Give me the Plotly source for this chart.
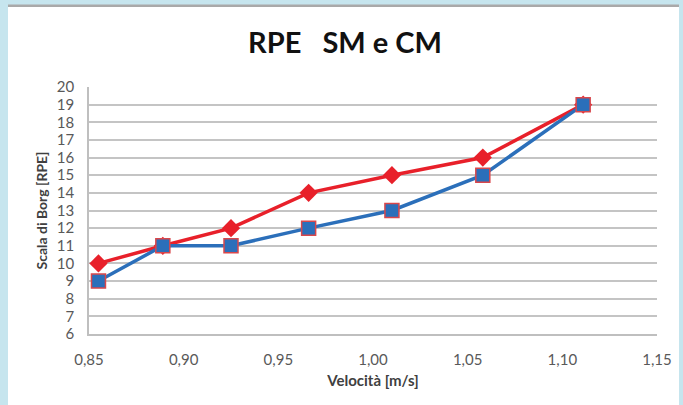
import plotly.graph_objects as go

velocity_cm = [0.855, 0.889, 0.925, 0.966, 1.010, 1.058, 1.111]
rpe_red = [10, 11, 12, 14, 15, 16, 19]
rpe_blue = [9, 11, 11, 12, 13, 15, 19]
x_ticks = [0.85, 0.90, 0.95, 1.00, 1.05, 1.10, 1.15]
y_ticks = list(range(6, 21))

W, H = 683, 405
L, R, T, B = 89, 657, 87, 334

def px(xp):
    return (xp - L) / (R - L)

def py(yp):
    return (B - yp) / (B - T)

fig = go.Figure()
fig.add_trace(go.Scatter(
    x=velocity_cm, y=rpe_red, mode="lines+markers", name="SM",
    line=dict(color="#e8202a", width=3.5),
    marker=dict(symbol="diamond", size=14, color="#e8202a", line=dict(width=0)),
))
fig.add_trace(go.Scatter(
    x=velocity_cm, y=rpe_blue, mode="lines+markers", name="CM",
    line=dict(color="#2b6fba", width=3.5),
    marker=dict(symbol="square", size=14, color="#2b6fba", line=dict(width=1.5, color="#d9474b")),
))

shapes = [
    dict(type="rect", xref="paper", yref="paper", layer="below",
         x0=px(8), x1=px(679), y0=py(405), y1=py(7),
         fillcolor="white", line=dict(width=0)),
    dict(type="rect", xref="paper", yref="paper", layer="below",
         x0=px(8), x1=px(679), y0=py(7), y1=py(4.5),
         fillcolor="#a9a9a9", line=dict(width=0)),
]

fig.update_layout(
    width=W, height=H,
    margin=dict(l=L, r=W - R, t=T, b=H - B),
    paper_bgcolor="#c6e5ee",
    plot_bgcolor="white",
    showlegend=False,
    separators=",.",
    shapes=shapes,
    title=dict(text="RPE\u00a0\u00a0\u00a0SM e CM", x=0.5, xref="paper", y=1 - 43 / H,
               yanchor="middle", xanchor="center",
               font=dict(family="Lato", size=29, color="#111111", weight="bold")),
    font=dict(family="Lato", color="#595959"),
)
fig.layout.title.x = (345 - L) / (R - L)

fig.update_xaxes(
    range=[0.85, 1.15], tickvals=x_ticks, tickformat=".2f",
    showgrid=False, zeroline=False,
    showline=True, linecolor="#bfbfbf", linewidth=1.5,
    ticks="", ticklabelstandoff=11,
    tickfont=dict(size=15, color="#595959"),
    title=dict(text="Velocità [m/s]", font=dict(size=15, color="#404040", weight="bold"), standoff=9),
)
fig.update_yaxes(
    range=[6, 20], tickvals=y_ticks,
    showgrid=True, gridcolor="#c4c4c4", gridwidth=1.8,
    zeroline=False, showline=True, linecolor="#bfbfbf", linewidth=1.5,
    ticks="", ticklabelstandoff=10,
    tickfont=dict(size=15, color="#595959"),
    title=dict(text="Scala di Borg [RPE]", font=dict(size=14, color="#404040", weight="bold"), standoff=6),
)

fig.write_html("out.html")
